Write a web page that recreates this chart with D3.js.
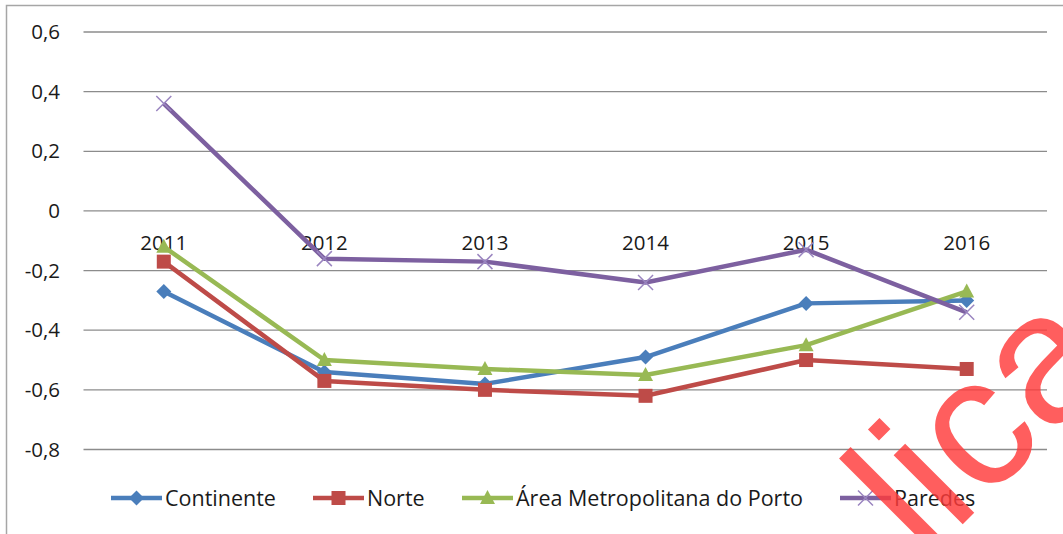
<!DOCTYPE html>
<html>
<head>
<meta charset="utf-8">
<script src="https://cdn.jsdelivr.net/npm/d3@7"></script>
<style>
  body { margin: 0; background: #fff; }
  svg { display: block; font-family: "Open Sans", Lato, sans-serif; }
</style>
</head>
<body>
<div id="chart"></div>
<script>
// data
const years = ["2011", "2012", "2013", "2014", "2015", "2016"];
const continente = [-0.27, -0.54, -0.58, -0.49, -0.31, -0.30];
const norte = [-0.17, -0.57, -0.60, -0.62, -0.50, -0.53];
const amp = [-0.12, -0.50, -0.53, -0.55, -0.45, -0.27];
const paredes = [0.36, -0.16, -0.17, -0.24, -0.13, -0.34];
const yTicks = [0.6, 0.4, 0.2, 0, -0.2, -0.4, -0.6, -0.8];

const series = [
  { name: "Continente", values: continente, color: "#4a7ebb", marker: "diamond", lx: 111 },
  { name: "Norte", values: norte, color: "#be4b48", marker: "square", lx: 313 },
  { name: "Área Metropolitana do Porto", values: amp, color: "#98b954", marker: "triangle", lx: 462 },
  { name: "Paredes", values: paredes, color: "#7d60a0", marker: "x", lx: 840 }
];

const width = 1063, height = 534;
const svg = d3.select("#chart").append("svg")
    .attr("width", width)
    .attr("height", height);

const x = d3.scalePoint().domain(years).range([83.5, 1047]).padding(0.5);
const y = d3.scaleLinear().domain([-0.8, 0.6]).range([449.5, 32]);

// chart border (top and left only visible)
svg.append("path")
    .attr("d", `M6.5,${height} V5.5 H${width}`)
    .attr("fill", "none")
    .attr("stroke", "#a6a6a6")
    .attr("stroke-width", 1.5);

// gridlines
svg.append("g")
  .selectAll("line")
  .data(yTicks)
  .join("line")
    .attr("x1", 83.5).attr("x2", 1047)
    .attr("y1", d => y(d)).attr("y2", d => y(d))
    .attr("stroke", "#8c8c8c")
    .attr("stroke-width", 1.3);

// y labels, comma as decimal separator
const fmt = d => d === 0 ? "0" : d3.format(".1f")(d).replace(".", ",").replace("−", "-");
svg.append("g")
  .selectAll("text")
  .data(yTicks)
  .join("text")
    .attr("x", 60)
    .attr("y", d => y(d))
    .attr("dy", "0.35em")
    .attr("text-anchor", "end")
    .attr("font-size", 20.5)
    .attr("fill", "#1a1a1a")
    .text(fmt);

// category labels (axis crosses at 0)
svg.append("g")
  .selectAll("text")
  .data(years)
  .join("text")
    .attr("x", d => x(d))
    .attr("y", y(0) + 32)
    .attr("dy", "0.35em")
    .attr("text-anchor", "middle")
    .attr("font-size", 20.5)
    .attr("fill", "#1a1a1a")
    .text(d => d);

function drawMarker(g, type, color, cx, cy) {
  if (type === "diamond") {
    g.append("path")
      .attr("d", `M${cx},${cy - 7.5} L${cx + 7.5},${cy} L${cx},${cy + 7.5} L${cx - 7.5},${cy} Z`)
      .attr("fill", color);
  } else if (type === "square") {
    g.append("rect")
      .attr("x", cx - 7).attr("y", cy - 7)
      .attr("width", 14).attr("height", 14)
      .attr("fill", color);
  } else if (type === "triangle") {
    g.append("path")
      .attr("d", `M${cx},${cy - 8} L${cx + 7.5},${cy + 6} L${cx - 7.5},${cy + 6} Z`)
      .attr("fill", color);
  } else {
    g.append("path")
      .attr("d", `M${cx - 7.5},${cy - 7.5} L${cx + 7.5},${cy + 7.5} M${cx + 7.5},${cy - 7.5} L${cx - 7.5},${cy + 7.5}`)
      .attr("stroke", "#9a85c0")
      .attr("stroke-width", 1.5)
      .attr("fill", "none");
  }
}

const line = d3.line()
    .x((d, i) => x(years[i]))
    .y(d => y(d));

series.forEach(s => {
  const g = svg.append("g");
  g.append("path")
    .datum(s.values)
    .attr("d", line)
    .attr("fill", "none")
    .attr("stroke", s.color)
    .attr("stroke-width", 4.5)
    .attr("stroke-linejoin", "round");
  s.values.forEach((v, i) => drawMarker(g, s.marker, s.color, x(years[i]), y(v)));
});

// legend
const ly = 498;
series.forEach(s => {
  const g = svg.append("g");
  g.append("line")
    .attr("x1", s.lx).attr("x2", s.lx + 51)
    .attr("y1", ly).attr("y2", ly)
    .attr("stroke", s.color)
    .attr("stroke-width", 4.5);
  drawMarker(g, s.marker, s.color, s.lx + 25.5, ly);
  g.append("text")
    .attr("x", s.lx + 54)
    .attr("y", ly)
    .attr("dy", "0.35em")
    .attr("font-size", 21.5)
    .attr("fill", "#1a1a1a")
    .text(s.name);
});

// red watermark fragment overlapping the bottom right
svg.append("text")
    .attr("transform", "translate(925,562) rotate(-45)")
    .attr("font-family", "Liberation Sans, Arial, sans-serif")
    .attr("font-size", 185)
    .attr("fill", "#ff3b3b")
    .attr("opacity", 0.82)
    .text("lica");
</script>
</body>
</html>
